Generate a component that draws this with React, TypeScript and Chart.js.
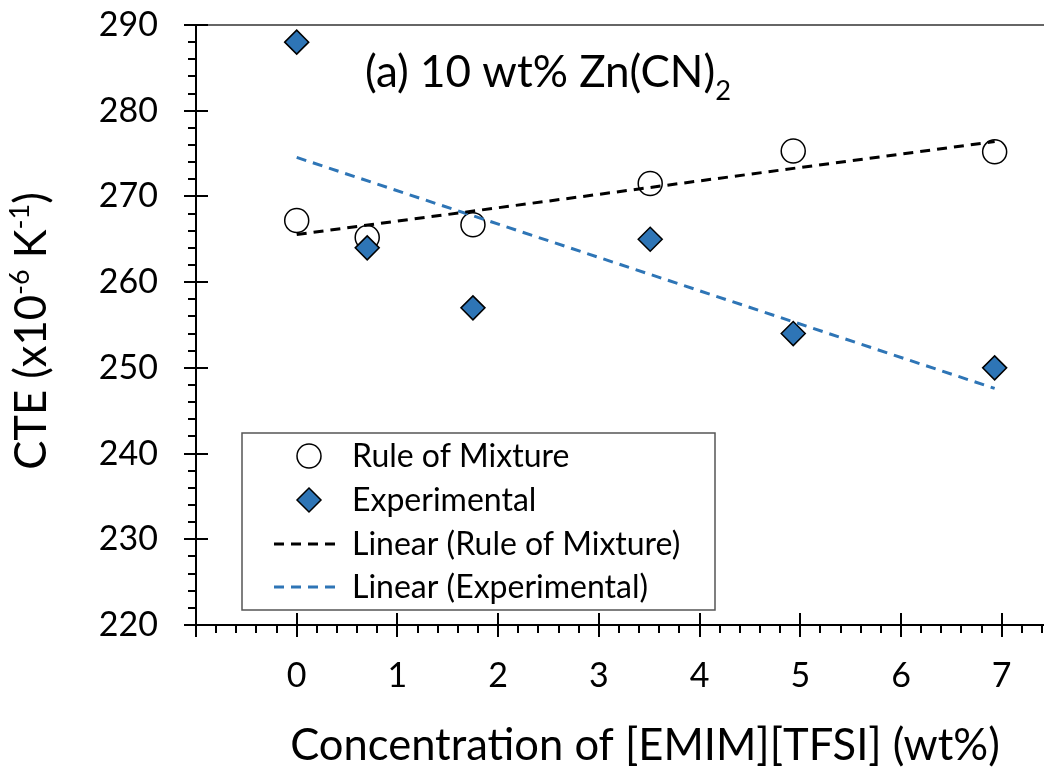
import { useEffect, useRef } from 'react';
import { Chart, registerables } from 'chart.js';

Chart.register(...registerables);

// ---- data ----
const concentration = [0, 0.7, 1.75, 3.51, 4.93, 6.93];
const ruleOfMixture = [267.2, 265.2, 266.7, 271.5, 275.3, 275.2];
const experimental = [288, 264, 257, 265, 254, 250];
const trendX = [0, 6.93];
const trendRuleOfMixture = [265.55, 276.4];
const trendExperimental = [274.55, 247.6];
const xTickValues = [0, 1, 2, 3, 4, 5, 6, 7];
const yTickValues = [220, 230, 240, 250, 260, 270, 280, 290];

const seriesLabels = ['Rule of Mixture', 'Experimental', 'Linear (Rule of Mixture)', 'Linear (Experimental)'];
const xTitle = 'Concentration of [EMIM][TFSI] (wt%)';
const BLUE = '#2E75B6';
const FONT = 'Lato, "Open Sans", sans-serif';

type Part = { text: string; scale?: number; dy?: number };

function drawRich(ctx: CanvasRenderingContext2D, parts: Part[], x: number, y: number, size: number, align: 'left' | 'center') {
  let total = 0;
  const widths = parts.map((p) => {
    ctx.font = `${size * (p.scale ?? 1)}px ${FONT}`;
    const w = ctx.measureText(p.text).width;
    total += w;
    return w;
  });
  let cx = align === 'center' ? x - total / 2 : x;
  ctx.textAlign = 'left';
  ctx.textBaseline = 'alphabetic';
  parts.forEach((p, i) => {
    ctx.font = `${size * (p.scale ?? 1)}px ${FONT}`;
    ctx.fillText(p.text, cx, y + (p.dy ?? 0) * size);
    cx += widths[i];
  });
}

const decorPlugin = {
  id: 'decor',
  afterDraw(chart: any) {
    const { ctx, chartArea } = chart;
    const xs = chart.scales.x;
    const ys = chart.scales.y;
    const { left, right, top, bottom } = chartArea;
    ctx.save();
    // top border
    ctx.strokeStyle = '#666';
    ctx.lineWidth = 2;
    ctx.beginPath();
    ctx.moveTo(left, top);
    ctx.lineTo(right, top);
    ctx.stroke();

    ctx.strokeStyle = '#000';
    ctx.lineWidth = 2;
    ctx.beginPath();
    ctx.moveTo(left, top);
    ctx.lineTo(left, bottom);
    ctx.moveTo(left - 12, bottom);
    ctx.lineTo(right, bottom);
    // y ticks
    for (let v = ys.min; v <= ys.max + 0.001; v += 2) {
      const py = Math.round(ys.getPixelForValue(v));
      if (Math.abs(v % 10) < 0.001) {
        ctx.moveTo(left - 12, py);
        ctx.lineTo(left + 12, py);
      } else {
        ctx.moveTo(left - 8, py);
        ctx.lineTo(left, py);
      }
    }
    // x ticks
    for (let i = -5; i <= 37; i++) {
      const v = i / 5;
      const px = Math.round(xs.getPixelForValue(v));
      if (px > right) break;
      if (i % 5 === 0) {
        ctx.moveTo(px, bottom - 12);
        ctx.lineTo(px, bottom + 12);
      } else {
        ctx.moveTo(px, bottom);
        ctx.lineTo(px, bottom + 8);
      }
    }
    ctx.stroke();

    ctx.fillStyle = '#000';
    // x title
    drawRich(ctx, [{ text: xTitle }], 645, 760, 43.5, 'center');
    // y title (rotated)
    ctx.save();
    ctx.translate(46, 331);
    ctx.rotate(-Math.PI / 2);
    drawRich(
      ctx,
      [
        { text: 'CTE (x10' },
        { text: '-6', scale: 0.62, dy: -0.38 },
        { text: ' K' },
        { text: '-1', scale: 0.62, dy: -0.38 },
        { text: ')' },
      ],
      0,
      0,
      43.5,
      'center'
    );
    ctx.restore();
    // annotation
    drawRich(
      ctx,
      [
        { text: '(a) 10 wt% Zn(CN)' },
        { text: '2', scale: 0.62, dy: 0.3 },
      ],
      365,
      87,
      44,
      'left'
    );

    // legend
    const lx = 242, ly = 433, lw = 473, lh = 177;
    ctx.fillStyle = '#fff';
    ctx.fillRect(lx, ly, lw, lh);
    ctx.strokeStyle = '#555';
    ctx.lineWidth = 1.5;
    ctx.strokeRect(lx, ly, lw, lh);
    const rows = [456, 500, 544, 587];
    const mx = 309;
    // circle
    ctx.beginPath();
    ctx.arc(mx, rows[0], 12, 0, Math.PI * 2);
    ctx.fillStyle = '#fff';
    ctx.fill();
    ctx.strokeStyle = '#000';
    ctx.lineWidth = 1.5;
    ctx.stroke();
    // diamond
    ctx.beginPath();
    ctx.moveTo(mx, rows[1] - 12);
    ctx.lineTo(mx + 12, rows[1]);
    ctx.lineTo(mx, rows[1] + 12);
    ctx.lineTo(mx - 12, rows[1]);
    ctx.closePath();
    ctx.fillStyle = BLUE;
    ctx.fill();
    ctx.stroke();
    // dashed samples
    ctx.lineWidth = 3;
    ctx.setLineDash([10, 7]);
    ctx.strokeStyle = '#000';
    ctx.beginPath();
    ctx.moveTo(274, rows[2]);
    ctx.lineTo(338, rows[2]);
    ctx.stroke();
    ctx.strokeStyle = BLUE;
    ctx.beginPath();
    ctx.moveTo(274, rows[3]);
    ctx.lineTo(338, rows[3]);
    ctx.stroke();
    ctx.setLineDash([]);
    ctx.fillStyle = '#000';
    ctx.font = `32px ${FONT}`;
    ctx.textAlign = 'left';
    ctx.textBaseline = 'middle';
    seriesLabels.forEach((t, i) => ctx.fillText(t, 352, rows[i] + 1));
    ctx.restore();
  },
};

export default function App() {
  const ref = useRef<HTMLCanvasElement | null>(null);
  useEffect(() => {
    if (!ref.current) return;
    const pts = (xs: number[], ys: number[]) => xs.map((x, i) => ({ x, y: ys[i] }));
    const chart = new Chart(ref.current, {
      type: 'scatter',
      data: {
        datasets: [
          {
            label: seriesLabels[2],
            data: pts(trendX, trendRuleOfMixture),
            showLine: true,
            borderColor: '#000',
            borderWidth: 3,
            borderDash: [10, 7],
            pointRadius: 0,
            order: 0,
          },
          {
            label: seriesLabels[3],
            data: pts(trendX, trendExperimental),
            showLine: true,
            borderColor: BLUE,
            borderWidth: 3,
            borderDash: [10, 7],
            pointRadius: 0,
            order: 0,
          },
          {
            label: seriesLabels[1],
            data: pts(concentration, experimental),
            pointStyle: 'rectRot',
            pointRadius: 12,
            backgroundColor: BLUE,
            borderColor: '#000',
            borderWidth: 1.5,
            order: 1,
          },
          {
            label: seriesLabels[0],
            data: pts(concentration, ruleOfMixture),
            pointStyle: 'circle',
            pointRadius: 12,
            backgroundColor: '#fff',
            borderColor: '#000',
            borderWidth: 1.5,
            order: 2,
          },
        ],
      },
      options: {
        responsive: false,
        animation: false,
        layout: { autoPadding: false, padding: { top: 25, left: 0, right: 0, bottom: 0 } },
        plugins: { legend: { display: false }, tooltip: { enabled: false } },
        scales: {
          x: {
            type: 'linear',
            min: -1,
            max: 7.42,
            grid: { display: false, drawTicks: false },
            border: { display: false },
            afterFit: (s: any) => {
              s.height = 145;
              s.paddingLeft = 0;
              s.paddingRight = 0;
            },
            afterBuildTicks: (s: any) => { s.ticks = xTickValues.map((v) => ({ value: v })); },
            ticks: {
              font: { family: FONT, size: 34 },
              color: '#000',
              padding: 31,
              maxRotation: 0,
              autoSkip: false,
              callback: (v: any) => String(v),
            },
          },
          y: {
            type: 'linear',
            min: 220,
            max: 290,
            grid: { display: false, drawTicks: false },
            border: { display: false },
            afterFit: (s: any) => {
              s.width = 196;
              s.paddingTop = 0;
              s.paddingBottom = 0;
            },
            afterBuildTicks: (s: any) => { s.ticks = yTickValues.map((v) => ({ value: v })); },
            ticks: {
              font: { family: FONT, size: 34 },
              color: '#000',
              padding: 38,
              autoSkip: false,
              callback: (v: any) => String(v),
            },
          },
        },
      },
      plugins: [decorPlugin],
    });
    return () => chart.destroy();
  }, []);
  return (
    <div style={{ position: 'absolute', left: 0, top: 0, width: 1044, height: 770, background: '#fff' }}>
      <canvas ref={ref} width={1044} height={770} style={{ display: 'block' }} />
    </div>
  );
}
